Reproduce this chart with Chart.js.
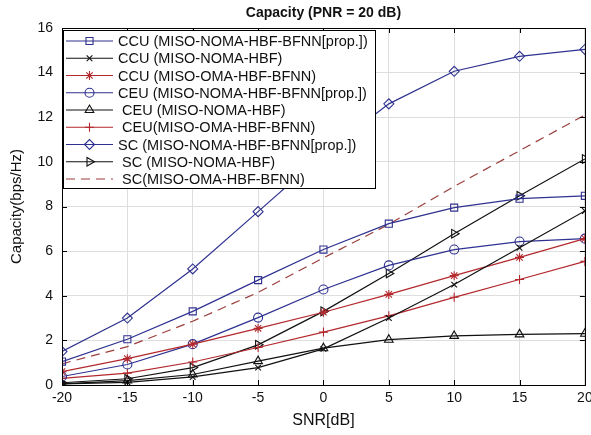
<!DOCTYPE html>
<html>
<head>
<meta charset="utf-8">
<script src="https://cdn.jsdelivr.net/npm/chart.js@4.4.1/dist/chart.umd.min.js"></script>
<style>
  html, body { margin: 0; padding: 0; background: #fff; }
  #wrap { width: 591px; height: 435px; }
</style>
</head>
<body>
<div id="wrap"><canvas id="capChart" width="591" height="435"></canvas></div>
<script>
// data
const snr = [-20, -15, -10, -5, 0, 5, 10, 15, 20];
const ccuProp = [1.05, 2.05, 3.30, 4.70, 6.07, 7.23, 7.95, 8.35, 8.48];
const ccuNoma = [0.05, 0.12, 0.36, 0.78, 1.62, 3.00, 4.50, 6.15, 7.80];
const ccuOma  = [0.60, 1.18, 1.83, 2.54, 3.26, 4.06, 4.90, 5.72, 6.56];
const ceuProp = [0.38, 0.92, 1.83, 3.02, 4.28, 5.36, 6.07, 6.43, 6.56];
const ceuNoma = [0.05, 0.20, 0.47, 1.07, 1.65, 2.03, 2.20, 2.27, 2.30];
const ceuOma  = [0.30, 0.53, 1.03, 1.68, 2.37, 3.10, 3.93, 4.73, 5.54];
const scProp  = [1.50, 3.00, 5.20, 7.77, 10.35, 12.60, 14.06, 14.73, 15.04];
const scNoma  = [0.10, 0.28, 0.78, 1.80, 3.30, 5.00, 6.78, 8.48, 10.13];
const scOma   = [0.95, 1.72, 2.86, 4.15, 5.70, 7.20, 8.90, 10.50, 12.10];

const xTicks = [-20, -15, -10, -5, 0, 5, 10, 15, 20];
const yTicks = [0, 2, 4, 6, 8, 10, 12, 14, 16];

const labels = [
  'CCU (MISO-NOMA-HBF-BFNN[prop.])',
  'CCU (MISO-NOMA-HBF)',
  'CCU (MISO-OMA-HBF-BFNN)',
  'CEU (MISO-NOMA-HBF-BFNN[prop.])',
  ' CEU (MISO-NOMA-HBF)',
  ' CEU(MISO-OMA-HBF-BFNN)',
  'SC (MISO-NOMA-HBF-BFNN[prop.])',
  ' SC (MISO-NOMA-HBF)',
  ' SC(MISO-OMA-HBF-BFNN)'
];

const BLUE = '#2f3190';
const BLACK = '#111111';
const RED = '#b3282d';
const BROWN = '#9a3f3c';
const FONT = '"Liberation Sans", Arial, sans-serif';

function series(label, values, color, style, radius, rotation, dash) {
  return {
    label: label,
    data: values.map((v, i) => ({ x: snr[i], y: v })),
    borderColor: color,
    backgroundColor: 'rgba(0,0,0,0)',
    borderWidth: 1.2,
    borderDash: dash || [],
    pointStyle: style,
    pointRadius: radius,
    pointRotation: rotation || 0,
    pointBorderWidth: 1.1,
    pointBorderColor: color,
    pointBackgroundColor: 'rgba(0,0,0,0)',
    tension: 0
  };
}

const datasets = [
  series(labels[0], ccuProp, BLUE, 'rect', 5),
  series(labels[1], ccuNoma, BLACK, 'crossRot', 4),
  series(labels[2], ccuOma, RED, 'star', 4.5),
  series(labels[3], ceuProp, BLUE, 'circle', 4.5),
  series(labels[4], ceuNoma, BLACK, 'triangle', 5),
  series(labels[5], ceuOma, RED, 'cross', 4.5),
  series(labels[6], scProp, BLUE, 'rectRot', 5),
  series(labels[7], scNoma, BLACK, 'triangle', 5, 90),
  series(labels[8], scOma, BROWN, false, 0, 0, [9, 6])
];

function marker(ctx, ds, x, y) {
  if (!ds.pointStyle || !ds.pointRadius) return;
  ctx.save();
  ctx.strokeStyle = ds.borderColor;
  ctx.fillStyle = 'rgba(0,0,0,0)';
  ctx.lineWidth = 1.1;
  ctx.setLineDash([]);
  Chart.helpers.drawPoint(ctx, {
    pointStyle: ds.pointStyle,
    rotation: ds.pointRotation,
    radius: ds.pointRadius,
    borderWidth: 1
  }, x, y);
  ctx.restore();
}

const framePlugin = {
  id: 'frame',
  afterDatasetsDraw(chart) {
    const ctx = chart.ctx;
    const a = chart.chartArea;
    const sx = chart.scales.x, sy = chart.scales.y;
    ctx.save();
    ctx.strokeStyle = '#000';
    ctx.lineWidth = 1;
    ctx.setLineDash([]);
    ctx.strokeRect(Math.round(a.left) + 0.5, Math.round(a.top) + 0.5,
      Math.round(a.right - a.left), Math.round(a.bottom - a.top));
    ctx.beginPath();
    xTicks.forEach(v => {
      const px = Math.round(sx.getPixelForValue(v)) + 0.5;
      ctx.moveTo(px, a.bottom); ctx.lineTo(px, a.bottom - 5);
      ctx.moveTo(px, a.top); ctx.lineTo(px, a.top + 5);
    });
    yTicks.forEach(v => {
      const py = Math.round(sy.getPixelForValue(v)) + 0.5;
      ctx.moveTo(a.left, py); ctx.lineTo(a.left + 5, py);
      ctx.moveTo(a.right, py); ctx.lineTo(a.right - 5, py);
    });
    ctx.stroke();

    // legend box inside the axes
    const lx = 63, ly = 30, lw = 312, lh = 158;
    ctx.fillStyle = '#fff';
    ctx.fillRect(lx, ly, lw, lh);
    ctx.strokeRect(lx + 0.5, ly + 0.5, lw, lh);
    ctx.font = '14.5px ' + FONT;
    ctx.textBaseline = 'middle';
    ctx.textAlign = 'left';
    chart.data.datasets.forEach((ds, i) => {
      const ry = 41 + i * 17.25;
      ctx.save();
      ctx.strokeStyle = ds.borderColor;
      ctx.lineWidth = 1.2;
      ctx.setLineDash(ds.borderDash);
      ctx.beginPath();
      ctx.moveTo(66, ry); ctx.lineTo(113, ry);
      ctx.stroke();
      ctx.restore();
      marker(ctx, ds, 89.5, ry);
      ctx.fillStyle = '#111';
      ctx.fillText(ds.label, 118, ry + 1);
    });
    ctx.restore();
  },
  afterDraw(chart) {
    const ctx = chart.ctx;
    const a = chart.chartArea;
    const cx = (a.left + a.right) / 2;
    ctx.save();
    ctx.fillStyle = '#111';
    ctx.textAlign = 'center';
    ctx.textBaseline = 'middle';
    ctx.font = 'bold 14px ' + FONT;
    ctx.fillText('Capacity (PNR = 20 dB)', cx, 13);
    ctx.font = '16px ' + FONT;
    ctx.fillText('SNR[dB]', cx, 421);
    ctx.translate(17, (a.top + a.bottom) / 2);
    ctx.rotate(-Math.PI / 2);
    ctx.font = '15px ' + FONT;
    ctx.fillText('Capacity(bps/Hz)', 0, 0);
    ctx.restore();
  }
};

new Chart(document.getElementById('capChart'), {
  type: 'line',
  data: { datasets: datasets },
  options: {
    responsive: false,
    animation: false,
    layout: { padding: { top: 28, right: 6, left: 0, bottom: 0 } },
    plugins: {
      legend: { display: false },
      title: { display: false },
      tooltip: { enabled: false }
    },
    scales: {
      x: {
        type: 'linear',
        min: -20,
        max: 20,
        afterBuildTicks: s => { s.ticks = xTicks.map(v => ({ value: v })); },
        afterFit: s => { s.height = 50; s.paddingLeft = 0; s.paddingRight = 0; },
        grid: { color: '#dedede', drawTicks: false },
        border: { display: false },
        ticks: { color: '#111', font: { family: FONT, size: 14 }, padding: 5, maxRotation: 0 }
      },
      y: {
        min: 0,
        max: 16,
        afterBuildTicks: s => { s.ticks = yTicks.map(v => ({ value: v })); },
        afterFit: s => { s.width = 62; s.paddingTop = 0; s.paddingBottom = 0; },
        grid: { color: '#dedede', drawTicks: false },
        border: { display: false },
        ticks: { color: '#111', font: { family: FONT, size: 14 }, padding: 9 }
      }
    }
  },
  plugins: [framePlugin]
});
</script>
</body>
</html>
